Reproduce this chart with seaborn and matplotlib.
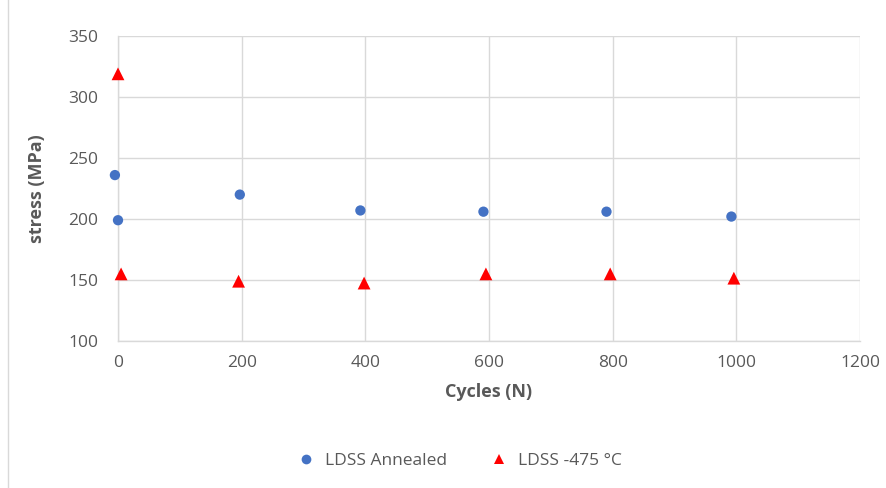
import matplotlib
matplotlib.use("Agg")
import matplotlib.pyplot as plt
import seaborn as sns
import pandas as pd
from matplotlib.patches import Rectangle

annealed_cycles = [-5, 0, 197, 392, 591, 790, 992]
annealed_stress = [236, 199, 220, 207, 206, 206, 202]
aged_cycles = [0, 5, 195, 398, 595, 796, 996]
aged_stress = [319, 155, 149, 147.5, 155, 155, 151.5]

df = pd.concat([
    pd.DataFrame({'cycles': annealed_cycles, 'stress': annealed_stress, 'series': 'LDSS Annealed'}),
    pd.DataFrame({'cycles': aged_cycles, 'stress': aged_stress, 'series': 'LDSS -475 °C'}),
])

sns.set_style('white')
plt.rcParams['font.family'] = ['Open Sans', 'DejaVu Sans']

fig = plt.figure(figsize=(8.87, 4.88), dpi=100)
ax = fig.add_axes([118 / 887, 1 - 341 / 488, (860 - 118) / 887, (341 - 36) / 488])

sns.scatterplot(data=df, x='cycles', y='stress', hue='series', style='series', size='series',
                palette={'LDSS Annealed': '#4472C4', 'LDSS -475 °C': '#FF0000'},
                markers={'LDSS Annealed': 'o', 'LDSS -475 °C': '^'},
                sizes={'LDSS Annealed': 55, 'LDSS -475 °C': 85},
                linewidth=0, ax=ax, zorder=3, clip_on=False)

ax.set_xlim(0, 1200)
ax.set_ylim(100, 350)
ax.set_xticks(range(0, 1201, 200))
ax.set_yticks(range(100, 351, 50))
ax.grid(True, color='#D9D9D9', linewidth=1)
ax.set_axisbelow(True)
for side in ['top', 'right']:
    ax.spines[side].set_visible(False)
for side in ['left', 'bottom']:
    ax.spines[side].set_color('#D9D9D9')
    ax.spines[side].set_linewidth(1)
ax.tick_params(axis='x', length=0, labelsize=12.5, labelcolor='#595959', pad=10)
ax.tick_params(axis='y', length=0, labelsize=12.5, labelcolor='#595959', pad=14)

ax.set_xlabel('Cycles (N)', fontsize=13, fontweight='bold', color='#595959', labelpad=9)
ax.set_ylabel('stress (MPa)', fontsize=13, fontweight='bold', color='#595959', labelpad=16)

handles, labels = ax.get_legend_handles_labels()
for h in handles:
    h.set_markersize(7)
ax.legend(handles, labels, loc='center', bbox_to_anchor=(455 / 887, 1 - 461 / 488),
          bbox_transform=fig.transFigure, ncol=2, frameon=False, fontsize=12.5,
          labelcolor='#595959', handletextpad=0.1, columnspacing=2.0)

fig.patches.append(Rectangle((8 / 887, -0.01), 1.1, 1.1, transform=fig.transFigure,
                             fill=False, edgecolor='#D9D9D9', linewidth=1))

fig.savefig('out.png', dpi=100)
